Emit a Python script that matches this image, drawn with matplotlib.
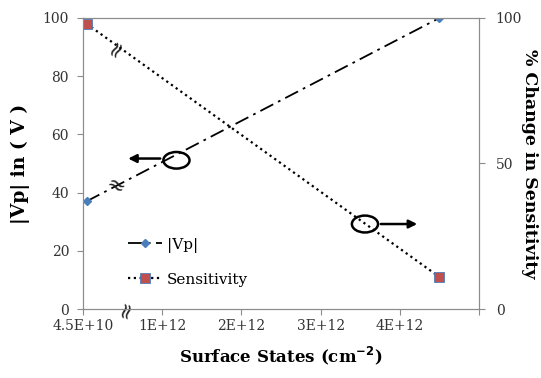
import matplotlib
matplotlib.use("Agg")
import matplotlib.pyplot as plt
from matplotlib.patches import Ellipse

plt.rcParams['font.family'] = ['DejaVu Serif']

# data
surface_states = [4.5e10, 4.5e12]
vp = [37, 100]
sensitivity = [98, 11]

x_ticks = [0, 1e12, 2e12, 3e12, 4e12, 5e12]
x_tick_labels = ["4.5E+10", "1E+12", "2E+12", "3E+12", "4E+12", ""]
left_ticks = [0, 20, 40, 60, 80, 100]
right_ticks = [0, 50, 100]

grey = "#8c8c8c"

fig = plt.figure(figsize=(5.41, 3.78), dpi=100)
ax = fig.add_axes([0.1534, 0.1825, 0.732, 0.770])
ax2 = ax.twinx()

l1, = ax.plot(surface_states, vp, color="black", linestyle=(0, (8, 3, 1.5, 3)), lw=1.3,
              marker="D", markersize=4.5, markerfacecolor="#4a7ebb", markeredgecolor="#4a7ebb",
              label="|Vp|")
l2, = ax2.plot(surface_states, sensitivity, color="black", linestyle=(0, (1, 1.6)), lw=1.6,
               marker="s", markersize=7, markerfacecolor="#c0504d", markeredgecolor="#4a7ebb",
               markeredgewidth=0.6, label="Sensitivity")

ax.set_xlim(0, 5e12)
ax.set_ylim(0, 100)
ax2.set_ylim(0, 100)
ax.set_xticks(x_ticks)
ax.set_xticklabels(x_tick_labels)
ax.set_yticks(left_ticks)
ax2.set_yticks(right_ticks)

for a in (ax, ax2):
    for s in a.spines.values():
        s.set_color(grey)
        s.set_linewidth(0.8)
    a.tick_params(colors=grey, labelcolor="#333333", labelsize=10, length=4, width=0.8)
ax.tick_params(axis="y", pad=6)
ax2.tick_params(axis="y", pad=8)

ax.set_ylabel("|Vp| in ( V )", fontsize=13.5, fontweight="bold", labelpad=9)
# right label placed by hand so it stays inside the figure
fig.text(0.978, 0.568, "% Change in Sensitivity", fontsize=12.5, fontweight="bold",
         rotation=-90, ha="center", va="center")
ax.set_xlabel("Surface States (cm$^{\\mathbf{-2}}$)", fontsize=12, fontweight="bold", labelpad=8)

ax.legend(handles=[l1, l2], loc="lower left", bbox_to_anchor=(0.08, 0.03), frameon=False,
          fontsize=11, handlelength=2.2, labelspacing=1.3, handletextpad=0.3)

# circles with arrows pointing to the matching axis
ax.add_patch(Ellipse((0.236, 0.511), 0.066, 0.057, transform=ax.transAxes, fill=False,
                     lw=1.8, color="black", zorder=5))
ax.annotate("", xy=(0.107, 0.517), xytext=(0.202, 0.517), xycoords="axes fraction",
            arrowprops=dict(arrowstyle="-|>", lw=1.8, color="black", mutation_scale=12))
ax.add_patch(Ellipse((0.712, 0.292), 0.066, 0.058, transform=ax.transAxes, fill=False,
                     lw=1.8, color="black", zorder=5))
ax.annotate("", xy=(0.851, 0.292), xytext=(0.745, 0.292), xycoords="axes fraction",
            arrowprops=dict(arrowstyle="-|>", lw=1.8, color="black", mutation_scale=12))

# break marks
ax.text(0.086, 0.895, "≈", transform=ax.transAxes, fontsize=16, rotation=60,
        ha="center", va="center", color="#222222")
ax.text(0.08, 0.42, "≈", transform=ax.transAxes, fontsize=16, rotation=-30,
        ha="center", va="center", color="#222222")
ax.text(0.11, 0.0, "≈", transform=ax.transAxes, fontsize=16, rotation=75,
        ha="center", va="center", color="#222222", clip_on=False)

fig.savefig("out.png", dpi=100)
